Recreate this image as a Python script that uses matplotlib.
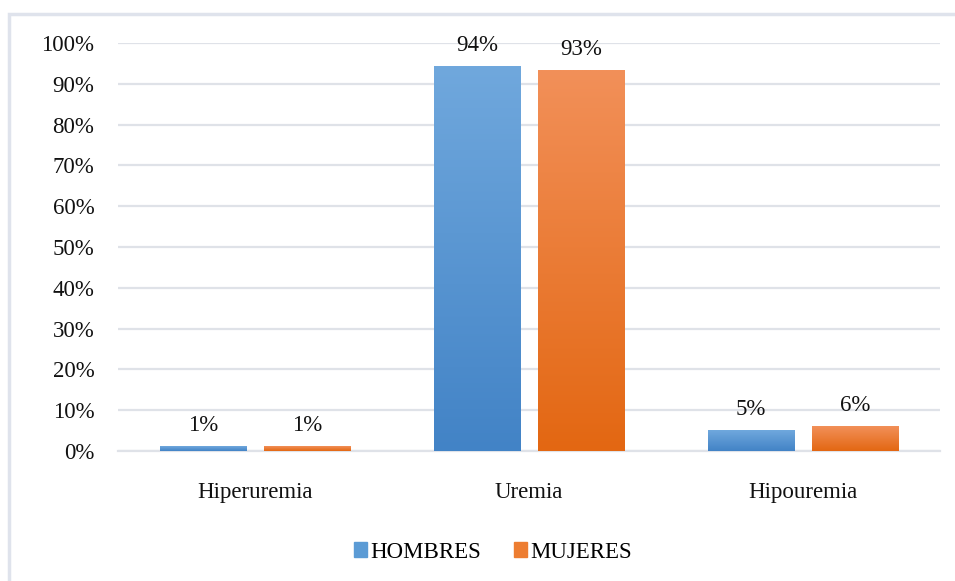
import numpy as np
import matplotlib
matplotlib.use("Agg")
import matplotlib.pyplot as plt
from matplotlib.colors import LinearSegmentedColormap
from matplotlib.patches import Rectangle

categories = ["Hiperuremia", "Uremia", "Hipouremia"]
hombres = [1.2, 94.3, 5.1]
mujeres = [1.2, 93.3, 6.1]
labels_h = ["1%", "94%", "5%"]
labels_m = ["1%", "93%", "6%"]
yticks = [0, 10, 20, 30, 40, 50, 60, 70, 80, 90, 100]
series_names = ["HOMBRES", "MUJERES"]

plt.rcParams['font.family'] = ['Liberation Serif', 'DejaVu Serif']
FS = 16.5

fig = plt.figure(figsize=(9.55, 5.81), dpi=100)
ax = fig.add_axes([118/955, 1-451/581, (940-118)/955, (451-43)/581])

x = np.arange(len(categories))
w = 0.314
off = 0.19

blue_cmap = LinearSegmentedColormap.from_list("b", ["#4283c6", "#70a8dd"])
orange_cmap = LinearSegmentedColormap.from_list("o", ["#e36712", "#f29059"])
grad = np.linspace(0, 1, 256).reshape(-1, 1)

bars_h = ax.bar(x - off, hombres, w, color="#5b9bd5", zorder=2)
bars_m = ax.bar(x + off, mujeres, w, color="#ed7d31", zorder=2)

for bars, cmap in ((bars_h, blue_cmap), (bars_m, orange_cmap)):
    for b in bars:
        x0, y0 = b.get_x(), b.get_y()
        bw, bh = b.get_width(), b.get_height()
        im = ax.imshow(grad, cmap=cmap, origin="lower", aspect="auto",
                       extent=[x0, x0 + bw, y0, y0 + bh], zorder=3)
        im.set_clip_path(b)

for i in range(len(categories)):
    ax.annotate(labels_h[i], (x[i] - off, hombres[i]), xytext=(0, 15), textcoords="offset points",
                ha="center", va="center", fontsize=FS, color="#111111")
    ax.annotate(labels_m[i], (x[i] + off, mujeres[i]), xytext=(0, 15), textcoords="offset points",
                ha="center", va="center", fontsize=FS, color="#111111")

ax.set_xlim(-0.5, 2.5)
ax.set_ylim(0, 100)
ax.set_yticks(yticks)
ax.set_yticklabels([f"{t}%" for t in yticks], fontsize=FS, color="#111111")
ax.set_xticks(x)
ax.set_xticklabels(categories, fontsize=FS, color="#111111")
ax.tick_params(axis="both", length=0)
ax.tick_params(axis="y", pad=17)
ax.tick_params(axis="x", pad=22)
ax.yaxis.grid(True, color="#dfe2e8", linewidth=1.6, zorder=0)
ax.set_axisbelow(True)
for s in ["top", "right", "left"]:
    ax.spines[s].set_visible(False)
ax.spines["bottom"].set_color("#dfe2e8")
ax.spines["bottom"].set_linewidth(1.6)

# chart border
fig.patches.append(Rectangle((9/955, -0.1), 1.1, 1 - 14/581 + 0.1, transform=fig.transFigure,
                             fill=False, edgecolor="#dfe3ec", linewidth=2.5))

# legend
handles = [Rectangle((0, 0), 1, 1, color="#5b9bd5"), Rectangle((0, 0), 1, 1, color="#ed7d31")]
fig.legend(handles, series_names, loc="center", bbox_to_anchor=(493/955, 1 - 552/581), ncol=2,
           frameon=False, fontsize=FS, handlelength=0.6, handleheight=0.6, handletextpad=0.15,
           columnspacing=1.4)

fig.savefig("out.png", dpi=100)
